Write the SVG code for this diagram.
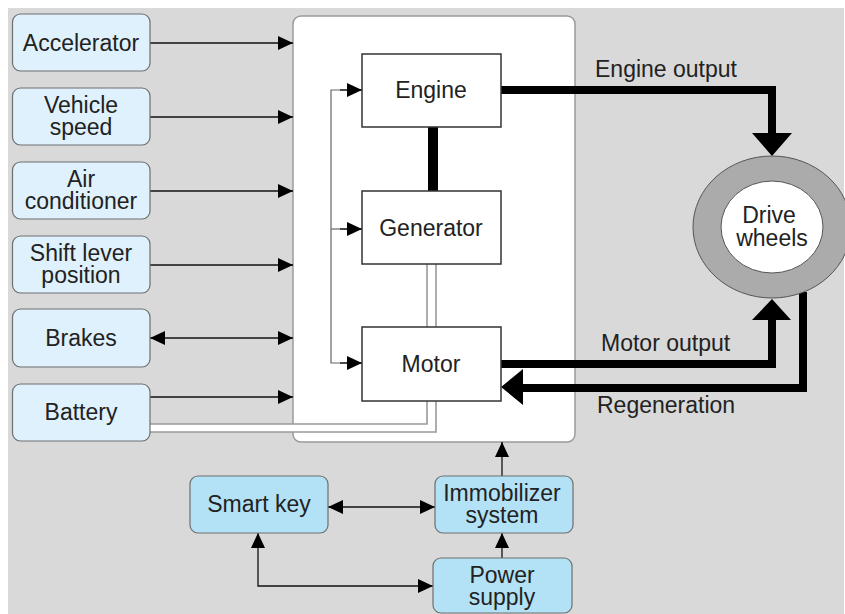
<svg xmlns="http://www.w3.org/2000/svg" width="845" height="614" viewBox="0 0 845 614">
<style>
  text { font-family: "Liberation Sans", Arial, sans-serif; font-size: 23px; fill: #222; text-anchor: middle; }
  .in { fill: #dff1fc; stroke: #6e6e6e; stroke-width: 1.2; }
  .sys { fill: #b3e2f6; stroke: #6e6e6e; stroke-width: 1.2; }
  .blk { fill: #ffffff; stroke: #333; stroke-width: 1.5; }
  .thin { fill: none; stroke: #111; stroke-width: 1.3; }
  .feed { fill: none; stroke: #666; stroke-width: 1.2; }
  .pipe { fill: none; stroke: #999; stroke-width: 1.6; }
  .pipefill { fill: none; stroke: #ffffff; stroke-width: 8; }
  .thick { fill: none; stroke: #000; stroke-width: 8; }
  .lbl { text-anchor: start; }
</style>
<defs>
  <marker id="ah" viewBox="0 0 15 14" markerWidth="15" markerHeight="14" refX="15" refY="7" orient="auto-start-reverse" markerUnits="userSpaceOnUse">
    <path d="M0,0 L15,7 L0,14 z" fill="#000"/>
  </marker>
</defs>
<rect x="0" y="0" width="845" height="614" fill="#ffffff"/>
<rect x="8" y="8" width="836" height="606" fill="#d9d9d9"/>

<g id="controller">
  <rect x="293" y="16" width="282" height="426" rx="8" fill="#ffffff" stroke="#9a9a9a" stroke-width="1.5"/>
</g>

<g id="connectors">
  <line class="thin" x1="150" y1="43" x2="293" y2="43" marker-end="url(#ah)"/>
  <line class="thin" x1="150" y1="117" x2="293" y2="117" marker-end="url(#ah)"/>
  <line class="thin" x1="150" y1="191" x2="293" y2="191" marker-end="url(#ah)"/>
  <line class="thin" x1="150" y1="265" x2="293" y2="265" marker-end="url(#ah)"/>
  <line class="thin" x1="150" y1="338" x2="293" y2="338" marker-start="url(#ah)" marker-end="url(#ah)"/>
  <line class="thin" x1="150" y1="397" x2="293" y2="397" marker-end="url(#ah)"/>
  <path class="pipefill" d="M431.5,264 V428 H150"/>
  <path class="pipe" d="M427,264 V424 H150"/>
  <path class="pipe" d="M436,264 V432 H150"/>
  <path class="feed" d="M362,90 H331 V363 H362"/>
  <line class="feed" x1="331" y1="229" x2="362" y2="229"/>
  <line class="thin" x1="340" y1="90" x2="362" y2="90" marker-end="url(#ah)"/>
  <line class="thin" x1="340" y1="229" x2="362" y2="229" marker-end="url(#ah)"/>
  <line class="thin" x1="340" y1="363" x2="362" y2="363" marker-end="url(#ah)"/>
  <line x1="433" y1="127" x2="433" y2="191" stroke="#000" stroke-width="10"/>
  <path class="thick" d="M501,90 H772 V134"/>
  <polygon points="752,133 792,133 772,156" fill="#000"/>
  <path class="thick" d="M501,364 H772 V318"/>
  <polygon points="752,320 791,320 772,299" fill="#000"/>
  <path class="thick" d="M803,292 V388 H520"/>
  <polygon points="523,369 523,405 501,387" fill="#000"/>
  <line class="thin" x1="502" y1="476" x2="502" y2="442" marker-end="url(#ah)"/>
  <line class="thin" x1="328" y1="507" x2="435" y2="507" marker-start="url(#ah)" marker-end="url(#ah)"/>
  <line class="thin" x1="502" y1="558" x2="502" y2="533" marker-end="url(#ah)"/>
  <path class="thin" d="M258,533 V586 H433" marker-start="url(#ah)" marker-end="url(#ah)"/>
</g>

<g id="accelerator"><rect class="in" x="12.5" y="14" width="137.5" height="57" rx="8"/><text x="81" y="51">Accelerator</text></g>
<g id="vehicle-speed"><rect class="in" x="12.5" y="88" width="137.5" height="57" rx="8"/><text x="81" y="113">Vehicle<tspan x="81" dy="22">speed</tspan></text></g>
<g id="air-conditioner"><rect class="in" x="12.5" y="162" width="137.5" height="57" rx="8"/><text x="81" y="187">Air<tspan x="81" dy="22">conditioner</tspan></text></g>
<g id="shift-lever"><rect class="in" x="12.5" y="236" width="137.5" height="57" rx="8"/><text x="81" y="261">Shift lever<tspan x="81" dy="22">position</tspan></text></g>
<g id="brakes"><rect class="in" x="12.5" y="309" width="137.5" height="58" rx="8"/><text x="81" y="346">Brakes</text></g>
<g id="battery"><rect class="in" x="12.5" y="384" width="137.5" height="57" rx="8"/><text x="81" y="420">Battery</text></g>

<g id="engine"><rect class="blk" x="362" y="54" width="139" height="73"/><text x="431" y="98">Engine</text></g>
<g id="generator"><rect class="blk" x="362" y="191" width="139" height="73"/><text x="431" y="236">Generator</text></g>
<g id="motor"><rect class="blk" x="362" y="327" width="139" height="74"/><text x="431" y="372">Motor</text></g>

<g id="drive-wheels">
  <ellipse cx="772" cy="227" rx="79" ry="71" fill="#ababab" stroke="#555" stroke-width="1"/>
  <ellipse cx="772" cy="227" rx="51" ry="46" fill="#ffffff" stroke="#555" stroke-width="1"/>
  <text x="769" y="223">Drive<tspan x="772" dy="23">wheels</tspan></text>
</g>

<g id="labels">
  <text class="lbl" x="595" y="77">Engine output</text>
  <text class="lbl" x="601" y="351">Motor output</text>
  <text class="lbl" x="597" y="413">Regeneration</text>
</g>

<g id="smart-key"><rect class="sys" x="190" y="476" width="138" height="57" rx="8"/><text x="259" y="512">Smart key</text></g>
<g id="immobilizer"><rect class="sys" x="435" y="476" width="138" height="57" rx="8"/><text x="502" y="501">Immobilizer<tspan x="502" dy="22">system</tspan></text></g>
<g id="power-supply"><rect class="sys" x="433" y="558" width="139" height="55" rx="8"/><text x="502" y="583">Power<tspan x="502" dy="22">supply</tspan></text></g>
</svg>
